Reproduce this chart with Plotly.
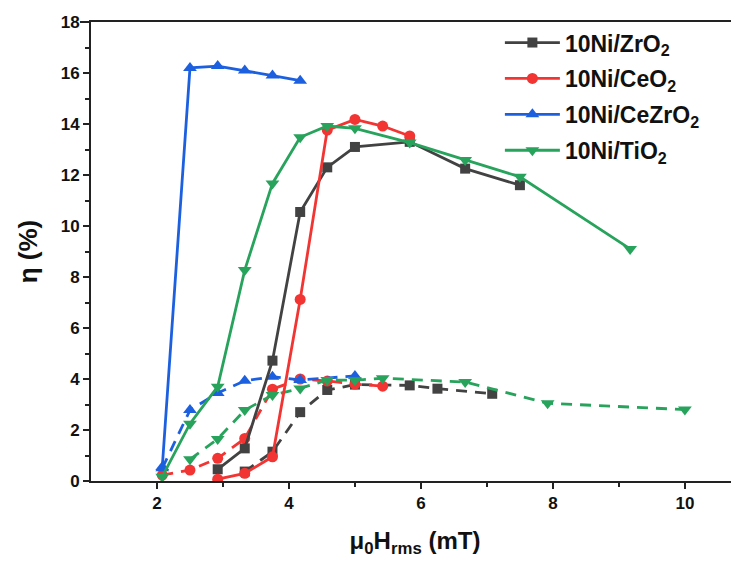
import plotly.graph_objects as go

# ---- data (mu0*Hrms in mT, eta in %) ----
zro2_x = [2.92, 3.33, 3.75, 4.17, 4.58, 5.0, 5.83, 6.67, 7.5]
zro2_y = [0.46, 1.28, 4.72, 10.55, 12.3, 13.1, 13.3, 12.25, 11.6]
zro2_dx = [3.33, 3.75, 4.17, 4.58, 5.0, 5.83, 6.25, 7.08]
zro2_dy = [0.37, 1.15, 2.7, 3.57, 3.78, 3.75, 3.62, 3.42]

ceo2_x = [2.92, 3.33, 3.75, 4.17, 4.58, 5.0, 5.42, 5.83]
ceo2_y = [0.07, 0.3, 0.95, 7.12, 13.76, 14.18, 13.92, 13.53]
ceo2_dx = [2.08, 2.5, 2.92, 3.33, 3.75, 4.17, 4.58, 5.0, 5.42]
ceo2_dy = [0.23, 0.43, 0.89, 1.67, 3.6, 4.0, 3.92, 3.8, 3.72]

cezr_x = [2.08, 2.5, 2.92, 3.33, 3.75, 4.17]
cezr_y = [0.55, 16.2, 16.27, 16.1, 15.9, 15.7]
cezr_dx = [2.08, 2.5, 2.92, 3.33, 3.75, 4.17, 5.0]
cezr_dy = [0.5, 2.78, 3.45, 3.93, 4.09, 3.96, 4.12]

tio2_x = [2.08, 2.5, 2.92, 3.33, 3.75, 4.17, 4.58, 5.0, 5.83, 6.67, 7.5, 9.17]
tio2_y = [0.17, 2.25, 3.7, 8.27, 11.67, 13.48, 13.92, 13.83, 13.27, 12.59, 11.93, 9.1]
tio2_dx = [2.5, 2.92, 3.33, 3.75, 4.17, 4.58, 5.0, 5.42, 6.67, 7.92, 10.0]
tio2_dy = [0.85, 1.65, 2.78, 3.37, 3.63, 3.96, 3.95, 4.03, 3.88, 3.05, 2.8]

names = ["10Ni/ZrO<sub>2</sub>", "10Ni/CeO<sub>2</sub>",
         "10Ni/CeZrO<sub>2</sub>", "10Ni/TiO<sub>2</sub>"]
colors = ["#424242", "#f23432", "#1c60e0", "#27a35c"]
symbols = ["square", "circle", "triangle-up", "triangle-down"]
msizes = [10, 11, 12, 12]

solid = [(zro2_x, zro2_y), (ceo2_x, ceo2_y), (cezr_x, cezr_y), (tio2_x, tio2_y)]
dashed = [(zro2_dx, zro2_dy), (ceo2_dx, ceo2_dy), (cezr_dx, cezr_dy), (tio2_dx, tio2_dy)]

fig = go.Figure()
for i in range(4):
    fig.add_trace(go.Scatter(
        x=dashed[i][0], y=dashed[i][1], mode="lines+markers", showlegend=False,
        line=dict(color=colors[i], width=2.8, dash="11px,8px"),
        marker=dict(symbol=symbols[i], size=msizes[i], color=colors[i])))
for i in range(4):
    fig.add_trace(go.Scatter(
        x=solid[i][0], y=solid[i][1], mode="lines+markers", name=f"<b>{names[i]}</b>",
        legendgroup=f"g{i}",
        line=dict(color=colors[i], width=2.8),
        marker=dict(symbol=symbols[i], size=msizes[i], color=colors[i])))

FONT = "Arial, Liberation Sans"
axis_common = dict(
    showline=True, linecolor="#222", linewidth=2, ticks="outside",
    ticklen=6, tickwidth=2, tickcolor="#222", showgrid=False, zeroline=False,
    automargin=False,
    tickfont=dict(family=FONT, size=17, color="#111"),
)
fig.update_xaxes(range=[1, 10.82], tickvals=[2, 4, 6, 8, 10],
                 ticktext=["<b>2</b>", "<b>4</b>", "<b>6</b>", "<b>8</b>", "<b>10</b>"],
                 minor=dict(tickvals=[3, 5, 7, 9], ticks="outside", ticklen=4,
                            tickwidth=2, tickcolor="#222"),
                 mirror=True,
                 title=dict(text="<b>\u03bc<sub>0</sub>H<sub>rms</sub> (mT)</b>",
                            font=dict(family=FONT, size=24, color="#111"),
                            standoff=20),
                 **axis_common)
fig.update_yaxes(range=[0, 18], tickvals=list(range(0, 19, 2)),
                 ticktext=[f"<b>{v}</b>" for v in range(0, 19, 2)],
                 minor=dict(tickvals=list(range(1, 18, 2)), ticks="outside", ticklen=4,
                            tickwidth=2, tickcolor="#222"),
                 title=dict(text="<b>\u03b7 (%)</b>",
                            font=dict(family=FONT, size=26, color="#111"),
                            standoff=16),
                 **axis_common)

# page body has an 8px margin; compensate so the plot sits where the reference has it
fig.update_layout(
    width=731, height=553,
    margin=dict(l=83, r=0, t=14, b=80),
    plot_bgcolor="white", paper_bgcolor="white",
    legend=dict(x=0.631, y=1.002, xanchor="left", yanchor="top",
                bgcolor="rgba(0,0,0,0)",
                font=dict(family=FONT, size=23, color="#111"),
                itemwidth=55, tracegroupgap=3),
    shapes=[dict(type="line", xref="paper", yref="paper", x0=-0.017, x1=0, y0=1, y1=1,
                 line=dict(color="#222", width=2))],
)

fig.write_html("out.html")
